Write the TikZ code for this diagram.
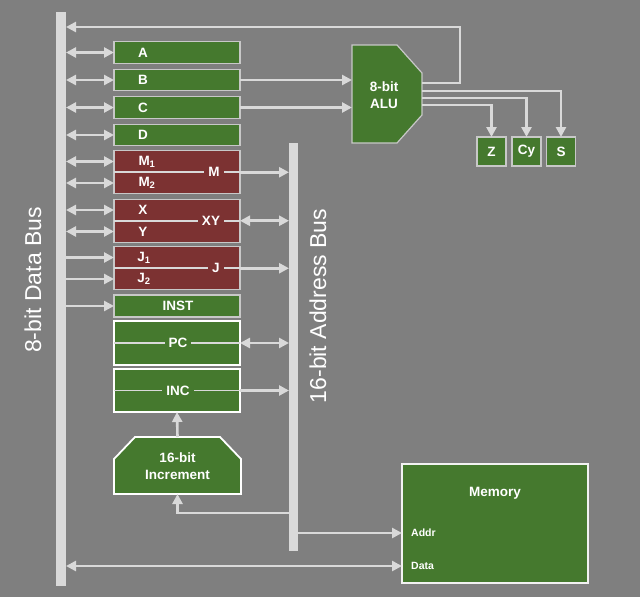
\documentclass[tikz,border=0pt]{standalone}
\usepackage{fontspec}
\setmainfont{Liberation Sans}
\usetikzlibrary{arrows.meta}
\definecolor{backgr}{RGB}{127,127,127}
\definecolor{buscol}{RGB}{217,217,217}
\definecolor{reggreen}{RGB}{69,121,46}
\definecolor{regred}{RGB}{124,50,50}
\definecolor{edgecol}{RGB}{200,200,200}
\tikzset{
  bus/.style={fill=buscol, draw=none, inner sep=0, outer sep=0},
  reg/.style={draw=edgecol, line width=1.2pt, fill=reggreen, minimum width=126, minimum height=21.5, inner sep=0, outer sep=0},
  pairreg/.style={reg, fill=regred},
  widereg/.style={reg, draw=white, line width=1.8pt, minimum height=44},
  frame/.style={inner sep=0, outer sep=0},
  flag/.style={reg, minimum width=29, minimum height=29, text=white, font=\bfseries\fontsize{13.5}{15}\selectfont},
  lbl/.style={text=white, font=\bfseries\fontsize{13.5}{15}\selectfont, inner sep=1pt},
  twolbl/.style={lbl, align=center, font=\bfseries\fontsize{13.5}{17}\selectfont},
  cutlbl/.style={lbl, fill=#1, inner xsep=4pt, inner ysep=1pt},
  smalllbl/.style={text=white, font=\bfseries\fontsize{10.5}{12}\selectfont, inner sep=0, anchor=west},
  buslbl/.style={text=white, font=\fontsize{23}{26}\selectfont, rotate=90},
  wire/.style={draw=buscol, line width=2.6pt},
  split/.style={draw=buscol, line width=1.6pt},
  link/.style={wire, -{Triangle[length=10pt,width=10pt]}},
  both/.style={wire, {Triangle[length=10pt,width=10pt]}-{Triangle[length=10pt,width=10pt]}},
}
\begin{document}
\begin{tikzpicture}[x=1pt,y=-1pt]
  \fill[backgr] (0,0) rectangle (640,597);
  \useasboundingbox (0,0) rectangle (640,597);
  \node[bus, minimum width=10, minimum height=574] (dbus) at (61,299) {};
  \node[bus, minimum width=9, minimum height=408] (abus) at (293.5,347) {};
  \node[buslbl] (dbuslbl) at (33,280) {8-bit Data Bus};
  \node[buslbl] (abuslbl) at (318,306) {16-bit Address Bus};

  \node[reg] (a) at (177,52.5) {};
  \node[reg] (b) at (177,80) {};
  \node[reg] (c) at (177,107.5) {};
  \node[reg] (d) at (177,135) {};
  \node[pairreg] (m1) at (177,161.5) {};
  \node[pairreg] (m2) at (177,183) {};
  \node[pairreg] (x) at (177,210) {};
  \node[pairreg] (y) at (177,231.5) {};
  \node[pairreg] (j1) at (177,257.5) {};
  \node[pairreg] (j2) at (177,279) {};
  \node[reg, minimum height=22] (inst) at (177,306) {};
  \node[widereg] (pc) at (177,343) {};
  \node[widereg, minimum height=43] (inc) at (177,390.5) {};

  \node[frame, minimum width=70, minimum height=98] (alu) at (387,94) {};
  \draw[fill=reggreen, draw=edgecol, line width=1.2pt] (alu.north west) -- ([xshift=-25pt]alu.north east)
    -- ([yshift=-28pt]alu.north east) -- ([yshift=28pt]alu.south east)
    -- ([xshift=-25pt]alu.south east) -- (alu.south west) -- cycle;
  \node[frame, minimum width=127, minimum height=57] (incr) at (177.5,465.5) {};
  \draw[fill=reggreen, draw=white, line width=1.8pt] (incr.south west) -- ([yshift=-22pt]incr.north west)
    -- ([xshift=21pt]incr.north west) -- ([xshift=-21pt]incr.north east)
    -- ([yshift=-22pt]incr.north east) -- (incr.south east) -- cycle;
  \node[flag] (z) at (491.5,151.5) {Z};
  \node[flag] (cy) at (526.5,151.5) {Cy};
  \node[flag] (s) at (561,151.5) {S};
  \node[reg, draw=white!90!gray, line width=1.8pt, minimum width=186, minimum height=119] (mem) at (495,523.5) {};

  \draw[both] (dbus.east |- a.west) -- (a.west);
  \draw[both] (dbus.east |- b.west) -- (b.west);
  \draw[both] (dbus.east |- c.west) -- (c.west);
  \draw[both] (dbus.east |- d.west) -- (d.west);
  \draw[both] (dbus.east |- m1.west) -- (m1.west);
  \draw[both] (dbus.east |- m2.west) -- (m2.west);
  \draw[both] (dbus.east |- x.west) -- (x.west);
  \draw[both] (dbus.east |- y.west) -- (y.west);
  \draw[link] (dbus.east |- j1.west) -- (j1.west);
  \draw[link] (dbus.east |- j2.west) -- (j2.west);
  \draw[link] (dbus.east |- inst.west) -- (inst.west);

  \draw[link] (b.east) -- (alu.west |- b.east);
  \draw[link] (c.east) -- (alu.west |- c.east);
  \draw[link] (alu.east |- 0,83) -| (460,27) -- (dbus.east |- 0,27);
  \draw[link] (alu.east |- 0,91) -| (s.north);
  \draw[link] (alu.east |- 0,98) -| (cy.north);
  \draw[link] (alu.east |- 0,105) -| (z.north);

  \draw[split] (m1.south west) -- (m1.south east);
  \draw[split] (x.south west) -- (x.south east);
  \draw[split] (j1.south west) -- (j1.south east);
  \draw[split] (pc.west) -- (pc.east);
  \draw[split] (inc.west) -- (inc.east);
  \draw[link] (m1.south east) -- (abus.west |- m1.south east);
  \draw[both] (x.south east) -- (abus.west |- x.south east);
  \draw[link] (j1.south east) -- (abus.west |- j1.south east);
  \draw[both] (pc.east) -- (abus.west |- pc.east);
  \draw[link] (inc.east) -- (abus.west |- inc.east);

  \draw[link] (incr.north) -- (inc.south);
  \draw[link] (abus.west |- 0,513) -| (incr.south);
  \draw[link] (abus.east |- 0,533) -- (mem.west |- 0,533);
  \draw[both] (dbus.east |- 0,566) -- (mem.west |- 0,566);

  \node[lbl] (alab) at (143,52.5) {A};
  \node[lbl] (blab) at (143,80) {B};
  \node[lbl] (clab) at (143,107.5) {C};
  \node[lbl] (dlab) at (143,135) {D};
  \node[lbl] (m1lab) at (147,161.5) {M\textsubscript{1}};
  \node[lbl] (m2lab) at (147,183) {M\textsubscript{2}};
  \node[cutlbl=regred] (mlab) at (214,172) {M};
  \node[lbl] (xlab) at (143,210) {X};
  \node[lbl] (ylab) at (143,231.5) {Y};
  \node[cutlbl=regred] (xylab) at (211,221) {XY};
  \node[lbl] (j1lab) at (144,257.5) {J\textsubscript{1}};
  \node[lbl] (j2lab) at (144,279) {J\textsubscript{2}};
  \node[cutlbl=regred] (jlab) at (216,268) {J};
  \node[lbl] (instlab) at (178,306) {INST};
  \node[cutlbl=reggreen] (pclab) at (178,343) {PC};
  \node[cutlbl=reggreen] (inclab) at (178,390.5) {INC};
  \node[twolbl] (alulab) at (384,95) {8-bit\\ALU};
  \node[twolbl] (incrlab) at (177.5,466) {16-bit\\Increment};
  \node[lbl] (memlab) at (495,493) {Memory};
  \node[smalllbl] (addrlab) at (411,533) {Addr};
  \node[smalllbl] (datalab) at (411,566) {Data};
\end{tikzpicture}
\end{document}
